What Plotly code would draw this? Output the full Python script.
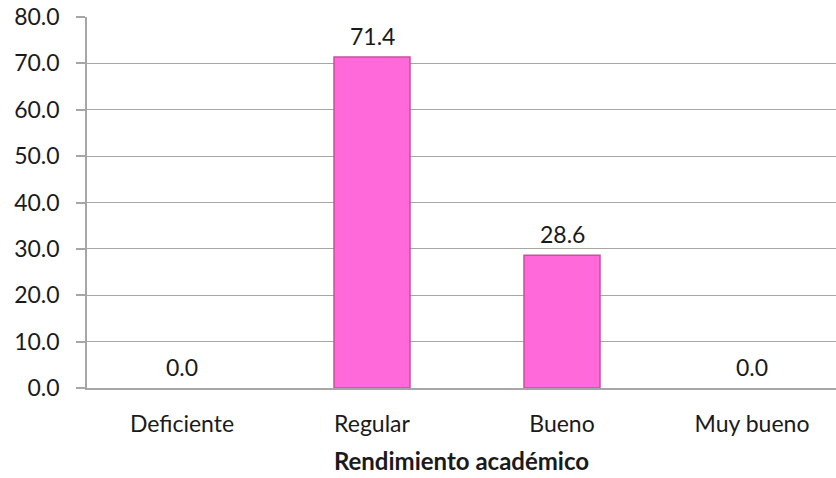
import plotly.graph_objects as go

categories = ["Deficiente", "Regular", "Bueno", "Muy bueno"]
values = [0.0, 71.4, 28.6, 0.0]
tick_vals = [0, 10, 20, 30, 40, 50, 60, 70, 80]
tick_text = ["0.0", "10.0", "20.0", "30.0", "40.0", "50.0", "60.0", "70.0", "80.0"]

FONT = "Lato, Open Sans, sans-serif"

fig = go.Figure()
fig.add_trace(go.Bar(
    x=categories, y=values,
    width=0.4,
    marker=dict(
        color="#FF69D9",
        line=dict(color=["rgba(0,0,0,0)" if v == 0 else "#C8509F" for v in values], width=1.5),
    ),
    cliponaxis=False,
    hoverinfo="skip",
))

for c, v in zip(categories, values):
    fig.add_annotation(
        x=c, y=v, text=f"{v:.1f}", showarrow=False,
        yanchor="bottom", yshift=5,
        font=dict(family=FONT, size=23, color="#1a1a1a"),
    )

fig.update_layout(
    width=836, height=478,
    margin=dict(l=87, r=0, t=17, b=90),
    paper_bgcolor="white", plot_bgcolor="white",
    showlegend=False,
    font=dict(family=FONT, color="#1a1a1a"),
    xaxis=dict(
        range=[-0.5, 3.442], automargin=False,
        showline=True, linecolor="#A6A6A6", linewidth=1.5,
        ticks="", tickfont=dict(size=23), ticklabelstandoff=15,
        title=dict(text="<b>Rendimiento académico</b>", font=dict(size=24), standoff=17),
    ),
    yaxis=dict(
        range=[0, 80], automargin=False,
        tickvals=tick_vals, ticktext=tick_text,
        showline=True, linecolor="#A6A6A6", linewidth=1.5,
        ticks="outside", ticklen=9, tickcolor="#A6A6A6", tickwidth=1.5,
        ticklabelstandoff=12,
        showgrid=True, gridcolor="#A6A6A6", gridwidth=1.2,
        tickfont=dict(size=23), zeroline=False,
    ),
)

fig.write_html("out.html", config={"displayModeBar": False},
               post_script="document.body.style.margin='0';")
